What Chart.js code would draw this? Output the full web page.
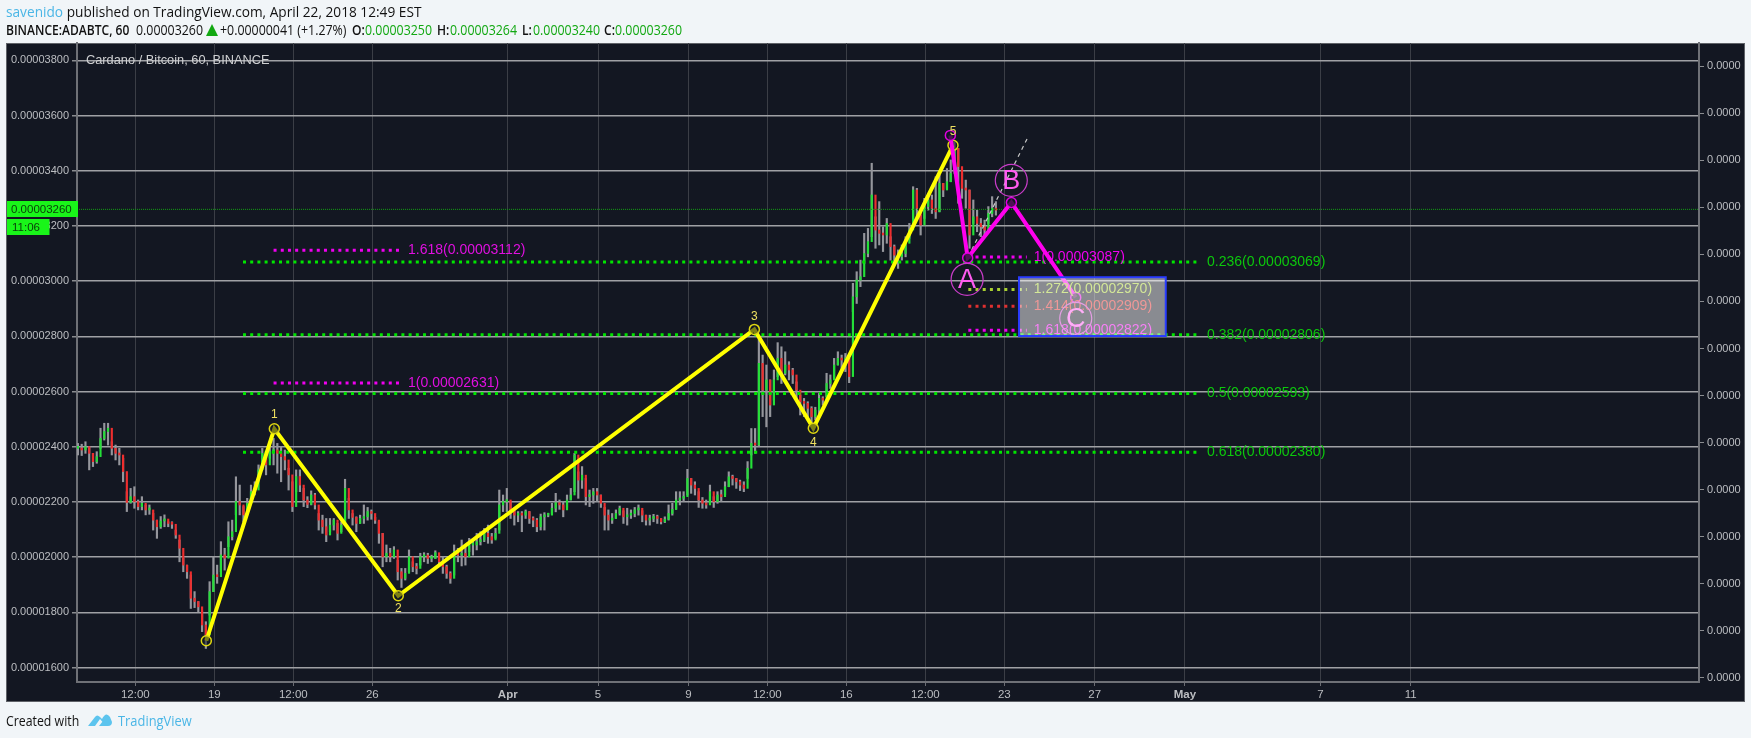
<!DOCTYPE html>
<html><head><meta charset="utf-8">
<script src="https://cdn.jsdelivr.net/npm/chart.js@4/dist/chart.umd.js"></script>
<style>
html,body{margin:0;padding:0;background:#f1f5f8;width:1751px;height:738px;overflow:hidden}
canvas{position:absolute;left:0;top:0}
.t{position:absolute;white-space:nowrap;font-family:"Open Sans",sans-serif;font-size:14px;line-height:18px;color:#111;transform-origin:left center}
.n{transform:scaleX(.885)}
.s{font-weight:600;transform:scaleX(.86)}
.b{color:#4ab6e6}.g{color:#12a812}
</style></head><body>
<canvas id="c" width="1751" height="738"></canvas>
<div class="t" style="left:6px;top:3px;transform:scaleX(.977)"><span class="b">savenido</span> published on TradingView.com, April 22, 2018 12:49 EST</div>
<div class="t s" style="left:6px;top:21px">BINANCE:ADABTC, 60</div>
<div class="t n" style="left:136px;top:21px">0.00003260</div>
<svg style="position:absolute;left:206px;top:24px" width="12" height="12"><polygon points="6,0 12,12 0,12" fill="#12a812"/></svg>
<div class="t n" style="left:220px;top:21px">+0.00000041 (+1.27%)</div>
<div class="t s" style="left:352px;top:21px">O:</div><div class="t g n" style="left:365px;top:21px">0.00003250</div>
<div class="t s" style="left:437px;top:21px">H:</div><div class="t g n" style="left:450px;top:21px">0.00003264</div>
<div class="t s" style="left:522px;top:21px">L:</div><div class="t g n" style="left:533px;top:21px">0.00003240</div>
<div class="t s" style="left:604px;top:21px">C:</div><div class="t g n" style="left:615px;top:21px">0.00003260</div>
<div class="t" style="left:6px;top:712px;transform:scaleX(.88)">Created with</div>
<svg style="position:absolute;left:87px;top:711px" width="26" height="17"><path d="M1 15 L8 6 Q10 3 13 6 L15 8 Q19 0 23 6 L25 11 Q25 15 21 15 L19 15 L13 8 L8 15 Z" fill="#5cc4ee"/><path d="M12 15 L16 10 L20 15 Z" fill="#5cc4ee"/></svg>
<div class="t b" style="left:118px;top:712px;transform:scaleX(.92)">TradingView</div>
<script>
// ---------- price candles, values in 1e-8 BTC ----------
const candleCloses=[2394,2388,2400,2376,2346,2364,2430,2455,2467,2394,2376,2370,2310,2198,2219,2201,2183,2195,2171,2171,2134,2110,2131,2138,2122,2119,2080,2032,1971,1947,1851,1839,1820,1754,1718,1875,1935,1929,2008,1996,2074,2092,2201,2189,2153,2195,2237,2243,2316,2376,2334,2382,2388,2376,2364,2352,2298,2183,2292,2261,2207,2191,2225,2189,
2134,2110,2080,2116,2134,2086,2116,2249,2171,2144,2122,2140,2146,2165,2158,2134,2086,2001,2014,2001,2026,1947,1923,1941,2001,1965,1959,2001,2007,1995,1995,2016,1983,1965,1941,1923,2020,2007,2014,2001,2044,2044,2056,2062,2086,2074,2062,2086,2189,2201,2207,2171,2152,2158,2152,2165,2140,2134,2110,
2146,2152,2152,2177,2197,2189,2171,2207,2225,2370,2279,2297,2219,2225,2237,2225,2195,2152,2134,2140,2158,2177,2146,2152,2158,2171,2177,2152,2134,2140,2146,2140,2128,2137,2158,2173,2207,2213,2219,2285,2261,2249,2207,2195,2189,2237,2201,2225,2219,2255,2291,2285,2273,2261,2249,2322,2412,
2406,2702,2605,2642,2551,2642,2720,2666,2696,2678,2660,2605,2563,2557,2539,2509,2533,2575,2569,2629,2642,2696,2720,2714,2720,2654,
2943,3004,3016,3100,3143,3312,3185,3173,3167,3209,3125,3094,3088,3100,3137,3185,3330,3264,3203,3270,3294,3264,3251,3354,3330,3360,3390,3481,3415,3336,3330,3167,3233,3209,3197,3185,3245,3264,3257];
const candleHighs=[2412,2409,2418,2400,2376,2382,2467,2485,2485,2418,2406,2394,2358,2237,2249,2255,2207,2219,2189,2189,2159,2134,2147,2153,2128,2128,2098,2062,1996,1971,1935,1875,1839,1802,1766,1911,2002,1971,2056,2032,2128,2134,2291,2261,2183,2213,2261,2273,2334,2394,2382,2412,2430,2412,2400,2388,2322,2273,2316,2316,2249,2219,2240,2231,
2158,2152,2140,2140,2140,2122,2128,2282,2213,2158,2146,2152,2189,2180,2171,2144,2128,2086,2044,2032,2038,1989,1959,1959,2026,1983,1977,2014,2016,2014,2007,2023,2001,2001,1971,1947,2044,2032,2062,2044,2068,2062,2086,2092,2104,2116,2086,2104,2243,2225,2249,2201,2171,2165,2165,2171,2165,2146,2140,
2156,2161,2158,2195,2231,2207,2201,2225,2249,2376,2309,2328,2285,2243,2249,2249,2225,2180,2171,2158,2171,2185,2168,2177,2171,2180,2189,2168,2152,2152,2155,2152,2140,2146,2189,2195,2237,2237,2237,2318,2285,2273,2237,2216,2207,2261,2219,2237,2243,2273,2309,2297,2285,2279,2273,2346,2466,
2466,2799,2732,2696,2642,2678,2777,2762,2744,2708,2684,2635,2587,2575,2563,2545,2543,2593,2581,2666,2660,2720,2744,2732,2738,2720,
2992,3034,3076,3173,3191,3427,3233,3288,3197,3227,3161,3131,3113,3131,3161,3209,3342,3336,3239,3300,3312,3312,3378,3384,3354,3408,3439,3505,3481,3390,3366,3330,3294,3257,3227,3221,3270,3306,3288];
const candleLows=[2370,2368,2376,2316,2328,2340,2394,2424,2406,2370,2352,2334,2273,2165,2195,2177,2171,2171,2153,2155,2098,2068,2104,2110,2110,2104,2068,1983,1947,1923,1814,1817,1802,1730,1669,1790,1875,1905,1947,1953,2038,2062,2153,2153,2128,2165,2207,2225,2291,2346,2298,2358,2334,2304,2273,2316,2243,2165,2237,2237,2183,2179,2189,2174,
2098,2086,2056,2092,2098,2062,2092,2122,2140,2116,2092,2122,2122,2134,2137,2122,2050,1965,1983,1983,1995,1917,1890,1917,1947,1947,1939,1971,1983,1977,1983,1995,1965,1941,1923,1905,1935,1983,1968,1971,2020,2007,2026,2044,2056,2050,2050,2068,2098,2165,2165,2140,2116,2128,2092,2140,2122,2110,2092,
2098,2098,2146,2158,2164,2173,2146,2180,2207,2237,2213,2249,2189,2183,2195,2201,2180,2098,2098,2122,2140,2152,2122,2116,2140,2146,2152,2128,2116,2116,2128,2122,2120,2125,2134,2152,2173,2189,2201,2225,2231,2225,2180,2177,2177,2195,2180,2195,2201,2225,2255,2261,2249,2241,2237,2285,2370,
2376,2400,2509,2472,2509,2569,2654,2629,2660,2642,2629,2575,2515,2509,2497,2485,2497,2515,2551,2581,2611,2648,2696,2684,2672,2632,
2889,2919,2980,3064,3088,3161,3119,3131,3107,3137,3076,3064,3046,3076,3088,3155,3227,3233,3167,3227,3257,3245,3227,3251,3306,3336,3360,3402,3282,3300,3264,3119,3209,3179,3161,3167,3209,3233,3239];
const candleStartHour=23, candleStepHours=4;

// ---------- axes (x values are hours counted from 12 March 2018, 00:00) ----------
const xTickHours=[84,168,252,336,480,576,672,756,840,924,1008,1104,1200,1344,1440];
const xTickLabels=['12:00','19','12:00','26','Apr','5','9','12:00','16','12:00','23','27','May','7','11'];
const xRange=[22,1746.6];
const yRange=[1547.5,3862.7];
const yTicks=[1600,1800,2000,2200,2400,2600,2800,3000,3200,3400,3600,3800];
const rightTicks=[0,1,2,3,4,5,6,7,8,9,10,11,12,13];
const rightRange=[-0.085,13.49];

// ---------- drawings ----------
const lastPrice=3260;
const waveHours=[159.5,231.8,363.6,742.2,804.9,953.4];
const wavePrices=[1697,2465,1860,2825,2467,3492];
const waveNames=['','1','2','3','4','5'];
const waveNameOffsets=[0,-14,13,-13,14,-14];
const abcHours=[950.6,969,1015.5,1083.9];
const abcPrices=[3528,3084,3285,2941];
const abcLetters=['A','B','C'];
const abcLetterHours=[968.4,1015.4,1083.9];
const abcLetterPrices=[3006.5,3365,2865];
const trendHours=[973.3,1032.4];
const trendPrices=[3113,3517];
const boxHours=[1023.6,1179.6];
const boxPrices=[3014,2801];
const retraceLevels=[3069,2806,2593,2380];
const retraceTexts=['0.236(0.00003069)','0.382(0.00002806)','0.5(0.00002593)','0.618(0.00002380)'];
const retraceHours=[198.5,1216];
const extLevelsA=[3112,2631];
const extTextsA=['1.618(0.00003112)','1(0.00002631)'];
const extHoursA=[231,367.6];
const extLevelsB=[3087,2970,2909,2822];
const extTextsB=['1(0.00003087)','1.272(0.00002970)','1.414(0.00002909)','1.618(0.00002822)'];
const extColorsB=['#f000f0','#a8d030','#e03030','#f000f0'];
const extHoursB=[969.7,1031.8];

const FONT='"Liberation Sans",Arial,sans-serif';
const xy=(xs,ys)=>xs.map((x,i)=>({x,y:ys[i]}));
const candleHours=candleCloses.map((_,i)=>candleStartHour+i*candleStepHours);
const candleOpens=candleCloses.map((c,i)=>i?candleCloses[i-1]:c);
const flat=(hrs,lvl)=>[{x:hrs[0],y:lvl},{x:hrs[1],y:lvl}];
const dotted=(hrs,lvl,color,order)=>({type:'line',data:flat(hrs,lvl),borderColor:color,borderWidth:3,borderDash:[3,4.2],pointRadius:0,order});

const datasets=[
 {type:'bar',data:candleHours.map((x,i)=>({x,y:[candleLows[i],candleHighs[i]]})),backgroundColor:'#95969c',barThickness:1.5,grouped:false,order:30},
 {type:'bar',data:candleHours.map((x,i)=>({x,y:[candleOpens[i],candleCloses[i]]})),
  backgroundColor:candleCloses.map((c,i)=>c>=candleOpens[i]?'#24e038':'#ee2e2e'),barThickness:1.5,minBarLength:2,grouped:false,order:29},
 {type:'line',data:[{x:xRange[0],y:lastPrice},{x:xRange[1],y:lastPrice}],borderColor:'#12a012',borderWidth:1,borderDash:[1,1],pointRadius:0,order:25},
 ...retraceLevels.map(l=>dotted(retraceHours,l,'#00e600',20)),
 ...extLevelsA.map(l=>dotted(extHoursA,l,'#f000f0',20)),
 ...extLevelsB.map((l,i)=>dotted(extHoursB,l,extColorsB[i],20)),
 {type:'line',data:xy(trendHours,trendPrices),borderColor:'#c8c8c8',borderWidth:1.2,borderDash:[4,4],pointRadius:0,order:15},
 {type:'line',data:xy(waveHours,wavePrices),borderColor:'#ffff00',borderWidth:4,tension:0,pointRadius:5,pointBorderWidth:1.5,pointBorderColor:'#e0d810',pointBackgroundColor:'rgba(19,23,34,0.55)',order:10},
 {type:'line',data:xy(abcHours,abcPrices),borderColor:'#ff00ee',borderWidth:4,tension:0,pointRadius:5,pointBorderWidth:1.5,pointBorderColor:'#e000e0',pointBackgroundColor:'rgba(19,23,34,0.75)',order:9}
];

const overlay={id:'overlay',
 beforeDraw(ch){const c=ch.ctx;c.save();c.fillStyle='#131722';c.fillRect(6.5,43.5,1738,658);c.strokeStyle='#5f6268';c.lineWidth=1;c.strokeRect(6.5,43.5,1738,658);c.restore();},
 afterDatasetsDraw(ch){
  const c=ch.ctx,X=ch.scales.x,Y=ch.scales.y;
  c.save();
  c.textBaseline='middle';c.textAlign='left';
  c.font='14px '+FONT;
  retraceLevels.forEach((l,i)=>{c.fillStyle='#0cc80c';c.fillText(retraceTexts[i],X.getPixelForValue(retraceHours[1])+7,Y.getPixelForValue(l));});
  extLevelsA.forEach((l,i)=>{c.fillStyle='#e010e0';c.fillText(extTextsA[i],X.getPixelForValue(extHoursA[1])+6,Y.getPixelForValue(l));});
  extLevelsB.forEach((l,i)=>{c.fillStyle=extColorsB[i];c.fillText(extTextsB[i],X.getPixelForValue(extHoursB[1])+7,Y.getPixelForValue(l));});
  c.textAlign='center';c.font='12px '+FONT;c.fillStyle='#efe060';
  waveNames.forEach((n,i)=>{if(n)c.fillText(n,X.getPixelForValue(waveHours[i]),Y.getPixelForValue(wavePrices[i])+waveNameOffsets[i]);});
  abcLetters.forEach((n,i)=>{
   const x=X.getPixelForValue(abcLetterHours[i]),y=Y.getPixelForValue(abcLetterPrices[i]);
   c.beginPath();c.arc(x,y,16,0,Math.PI*2);c.strokeStyle='#c83cc8';c.lineWidth=1.2;c.stroke();
   c.font='27px '+FONT;c.fillStyle='#ff5cf0';c.fillText(n,x,y+1);
  });
  const bx=X.getPixelForValue(boxHours[0]),bx2=X.getPixelForValue(boxHours[1]),by=Y.getPixelForValue(boxPrices[0]),by2=Y.getPixelForValue(boxPrices[1]);
  c.fillStyle='rgba(255,255,255,0.5)';c.fillRect(bx,by,bx2-bx,by2-by);
  c.strokeStyle='#2a3cff';c.lineWidth=2;c.strokeRect(bx,by,bx2-bx,by2-by);
  c.restore();
 },
 afterDraw(ch){
  const c=ch.ctx,Y=ch.scales.y,p=Math.round(Y.getPixelForValue(lastPrice));
  c.save();c.fillStyle='#19f519';
  c.fillRect(7,p-8,71,16);c.fillRect(7,p+10,42.5,16);
  c.fillStyle='#0b3d0b';c.font='11.5px '+FONT;c.textBaseline='middle';c.textAlign='left';
  c.fillText((lastPrice/1e8).toFixed(8),11,p+1);c.fillText('11:06',12,p+18.5);
  c.fillStyle='#cfd0d2';c.font='12.8px '+FONT;c.fillText('Cardano / Bitcoin, 60, BINANCE',86,60);
  c.restore();
 }
};

new Chart(document.getElementById('c'),{
 data:{datasets},
 plugins:[overlay],
 options:{responsive:false,animation:false,devicePixelRatio:1,
  layout:{padding:{left:6,right:7,top:43,bottom:37}},
  plugins:{legend:{display:false},tooltip:{enabled:false},title:{display:false}},
  scales:{
   x:{type:'linear',offset:false,min:xRange[0],max:xRange[1],
    afterBuildTicks:s=>{s.ticks=xTickHours.map(v=>({value:v}));},
    afterFit:s=>{s.height=19;},
    grid:{offset:false,color:'#3b3e46',lineWidth:1,tickLength:4,tickColor:'#6a6c72'},
    border:{color:'#6f7177',width:2},
    ticks:{autoSkip:false,maxRotation:0,padding:2,color:'#bcbec2',
     callback:(v,i)=>xTickLabels[i],
     font:ctx=>({family:FONT,size:11.5,weight:/[a-z]/i.test(xTickLabels[ctx.index]||'')?'bold':'normal'})}},
   y:{type:'linear',position:'left',min:yRange[0],max:yRange[1],
    afterBuildTicks:s=>{s.ticks=yTicks.map(v=>({value:v}));},
    afterFit:s=>{s.width=71;},
    grid:{color:'#a0a1a5',lineWidth:1.5,tickLength:5,tickColor:'#8a8c90'},
    border:{color:'#6f7177',width:2},
    ticks:{autoSkip:false,padding:3,color:'#bcbec2',font:{family:FONT,size:11},callback:v=>(v/1e8).toFixed(8)}},
   y2:{type:'linear',position:'right',min:rightRange[0],max:rightRange[1],
    afterBuildTicks:s=>{s.ticks=rightTicks.map(v=>({value:v}));},
    afterFit:s=>{s.width=45;},
    grid:{drawOnChartArea:false,tickLength:5,tickColor:'#8a8c90'},
    border:{color:'#6f7177',width:2},
    ticks:{autoSkip:false,padding:3,color:'#bcbec2',font:{family:FONT,size:11},callback:()=>'0.0000'}}
  }}
});
</script>
</body></html>
